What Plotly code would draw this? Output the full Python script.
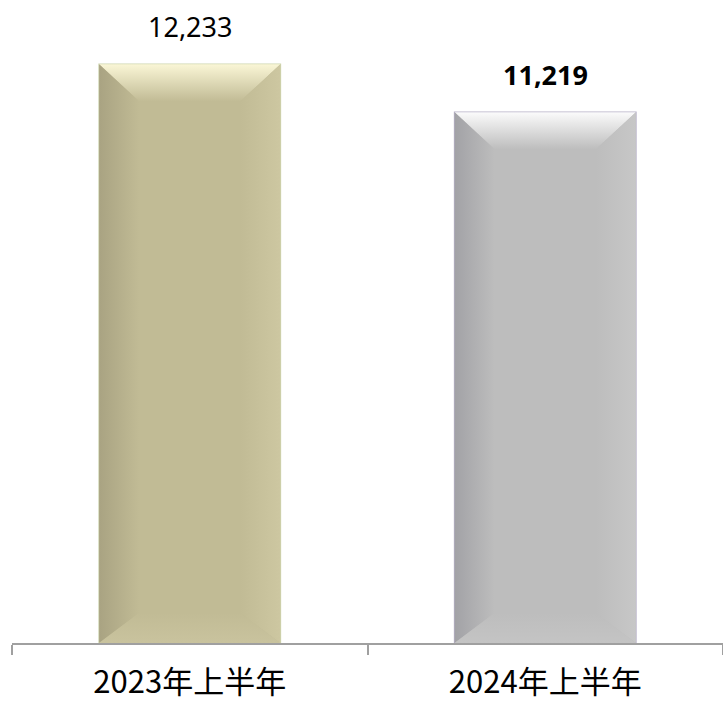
import plotly.graph_objects as go

# Data
categories = ["2023年上半年", "2024年上半年"]
values = [12233, 11219]
value_labels = ["12,233", "11,219"]
label_bold = [False, True]

# Styling per bar: face, edge, top bevel highlight, left shade, right shade, bottom shade
styles = [
    dict(face="#C1BB95", edge="#CDD5AE", top="#FAF6D6", left="#A9A382", right="#CDC7A1", bottom="#C9C39E"),
    dict(face="#BDBDBD", edge="#B5AFC6", top="#FBFBFB", left="#A2A2A6", right="#C7C7C7", bottom="#C4C4C4"),
]

Y_MAX = 13000
BAR_W = 0.51
PLOT_W_PX = 711
PLOT_H_PX = 615
px_x = 2.0 / PLOT_W_PX          # category units per pixel
px_y = Y_MAX / PLOT_H_PX        # value units per pixel
BEV_X = 40 * px_x
BEV_TOP = 37 * px_y
BEV_BOT = 30 * px_y

fig = go.Figure()

fig.add_trace(go.Bar(
    x=list(range(len(categories))),
    y=values,
    width=BAR_W,
    marker=dict(color=[s["face"] for s in styles],
                line=dict(color=[s["edge"] for s in styles], width=1.5)),
    hoverinfo="skip",
    showlegend=False,
))


def bevel(xs, ys, c_low, c_high, orient):
    fig.add_trace(go.Scatter(
        x=xs + [xs[0]], y=ys + [ys[0]],
        mode="lines", line=dict(width=0),
        fill="toself",
        fillgradient=dict(type=orient, colorscale=[[0, c_low], [1, c_high]]),
        hoverinfo="skip", showlegend=False,
    ))


for i, v in enumerate(values):
    s = styles[i]
    x0, x1 = i - BAR_W / 2, i + BAR_W / 2
    ix0, ix1 = x0 + BEV_X, x1 - BEV_X
    iy0, iy1 = BEV_BOT, v - BEV_TOP
    # top bevel: face colour at inner edge, bright at the outer edge
    bevel([x0, x1, ix1, ix0], [v, v, iy1, iy1], s["face"], s["top"], "vertical")
    # left bevel: darker towards outer edge
    bevel([x0, ix0, ix0, x0], [v, iy1, iy0, 0], s["left"], s["face"], "horizontal")
    # right bevel: lighter towards outer edge
    bevel([x1, ix1, ix1, x1], [v, iy1, iy0, 0], s["face"], s["right"], "horizontal")
    # bottom bevel
    bevel([x0, ix0, ix1, x1], [0, iy0, iy0, 0], s["bottom"], s["face"], "vertical")

for i, v in enumerate(values):
    txt = f"<b>{value_labels[i]}</b>" if label_bold[i] else value_labels[i]
    fig.add_annotation(
        x=i, y=v, text=txt, showarrow=False,
        xanchor="center", yanchor="middle", yshift=38,
        font=dict(family="Noto Sans, sans-serif", size=27, color="#000000"),
    )

fig.update_layout(
    width=723, height=707,
    margin=dict(l=12, r=0, t=28, b=64),
    paper_bgcolor="white", plot_bgcolor="white",
    bargap=0.49,
    xaxis=dict(
        range=[-0.5, 1.5],
        tickmode="array",
        tickvals=list(range(len(categories))),
        ticktext=categories,
        ticks="",
        minor=dict(ticks="outside", tick0=0.5, dtick=1, ticklen=10,
                   tickwidth=1.5, tickcolor="#A0A0A0", showgrid=False),
        showline=True, linecolor="#A0A0A0", linewidth=1.5,
        showgrid=False, zeroline=False,
        ticklabelstandoff=11,
        automargin=False,
        tickfont=dict(family="Noto Sans CJK SC", size=31, color="#000000"),
        fixedrange=True,
    ),
    yaxis=dict(
        range=[0, Y_MAX], visible=False, showgrid=False, zeroline=False,
        fixedrange=True, automargin=False,
    ),
)

fig.write_html("out.html")
